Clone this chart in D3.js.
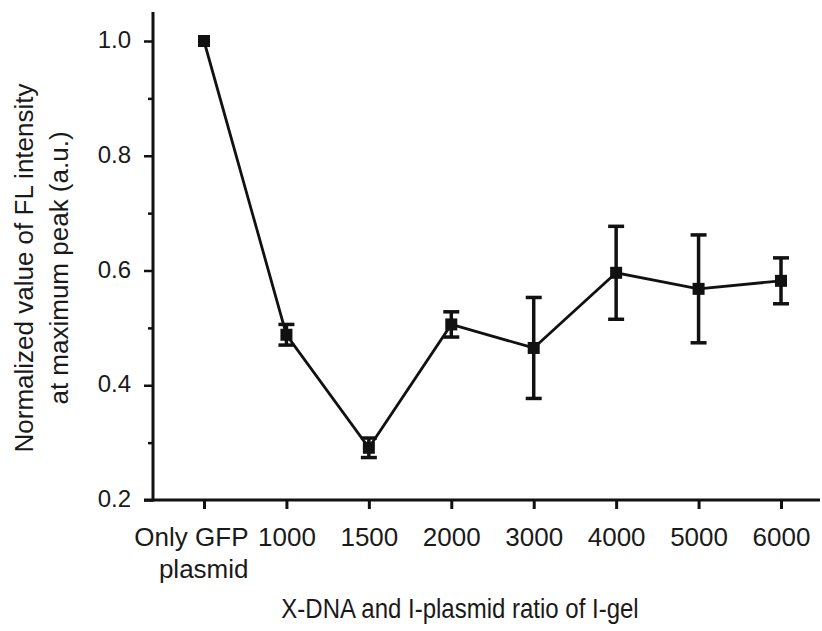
<!DOCTYPE html>
<html>
<head>
<meta charset="utf-8">
<script src="https://cdn.jsdelivr.net/npm/d3@7"></script>
<style>
  html, body { margin: 0; padding: 0; background: #fff; }
  svg { display: block; }
  text { font-family: "Liberation Sans", Arial, Helvetica, sans-serif; fill: #1a1a1a; }
</style>
</head>
<body>
<svg id="chart" width="822" height="631"></svg>
<script>
const categories = ["Only GFP|plasmid", "1000", "1500", "2000", "3000", "4000", "5000", "6000"];
const values = [1.0, 0.488, 0.291, 0.506, 0.465, 0.596, 0.568, 0.582];
const errors = [0.0, 0.018, 0.017, 0.022, 0.088, 0.081, 0.094, 0.040];
const yMajorTicks = [0.2, 0.4, 0.6, 0.8, 1.0];
const yMinorTicks = [0.3, 0.5, 0.7, 0.9];
const xTitle = "X-DNA and I-plasmid ratio of I-gel";
const yTitle = ["Normalized value of FL intensity", "at maximum peak (a.u.)"];

const svg = d3.select("#chart");
const axisX = 153, axisY = 500;

const y = d3.scaleLinear().domain([0.2, 1.0]).range([500, 41]);
const x = d3.scalePoint().domain(categories).range([204, 781]);

const ink = "#111";

// Y axis
const yAxis = d3.axisLeft(y).tickValues(yMajorTicks).tickSize(9).tickPadding(13)
  .tickFormat(d3.format(".1f"));
const gy = svg.append("g").attr("transform", `translate(${axisX},0)`).call(yAxis);
gy.select(".domain").remove();
gy.selectAll(".tick line").attr("stroke", ink).attr("stroke-width", 2.5);
gy.selectAll(".tick text").attr("font-size", 24).attr("dy", "0.28em").style("fill", "#1a1a1a");

const yMinor = d3.axisLeft(y).tickValues(yMinorTicks).tickSize(5).tickFormat("");
const gym = svg.append("g").attr("transform", `translate(${axisX},0)`).call(yMinor);
gym.select(".domain").remove();
gym.selectAll(".tick line").attr("stroke", ink).attr("stroke-width", 2.5);

svg.append("line").attr("x1", axisX).attr("x2", axisX).attr("y1", 12).attr("y2", axisY + 1.5)
  .attr("stroke", ink).attr("stroke-width", 3);

// X axis
const xAxis = d3.axisBottom(x).tickSize(9).tickFormat("");
const gx = svg.append("g").attr("transform", `translate(0,${axisY})`).call(xAxis);
gx.select(".domain").remove();
gx.selectAll(".tick line").attr("stroke", ink).attr("stroke-width", 3);
gx.selectAll(".tick").each(function(d) {
  const lines = d.split("|");
  const multi = lines.length > 1;
  const t = d3.select(this).append("text")
    .attr("text-anchor", multi ? "end" : "middle").attr("font-size", 26).style("fill", "#1a1a1a");
  lines.forEach((s, i) => t.append("tspan").attr("x", multi ? 44 : 0).attr("y", 46 + i * 32).text(s));
});
svg.append("line").attr("x1", 144).attr("x2", 820).attr("y1", axisY).attr("y2", axisY)
  .attr("stroke", ink).attr("stroke-width", 3);

// Error bars
const eb = svg.append("g");
categories.forEach((c, i) => {
  if (errors[i] <= 0) return;
  const cx = x(c);
  const top = y(values[i] + errors[i]), bot = y(values[i] - errors[i]);
  eb.append("line").attr("x1", cx).attr("x2", cx).attr("y1", top).attr("y2", bot)
    .attr("stroke", ink).attr("stroke-width", 3.5);
  [top, bot].forEach(v => eb.append("line").attr("x1", cx - 8).attr("x2", cx + 8)
    .attr("y1", v).attr("y2", v).attr("stroke", ink).attr("stroke-width", 3.5));
});

// Line
const line = d3.line().x((d, i) => x(categories[i])).y(d => y(d));
svg.append("path").datum(values).attr("d", line)
  .attr("fill", "none").attr("stroke", ink).attr("stroke-width", 2.8);

// Markers
svg.append("g").selectAll("rect").data(values).join("rect")
  .attr("x", (d, i) => x(categories[i]) - 6).attr("y", d => y(d) - 6)
  .attr("width", 12).attr("height", 12).attr("fill", ink);

// Titles
svg.append("text").attr("transform", "translate(460,618) scale(1,1.12)").attr("text-anchor", "middle")
  .attr("font-size", 24).text(xTitle);
const yt = svg.append("text").attr("transform", "translate(0,268) rotate(-90)")
  .attr("text-anchor", "middle").attr("font-size", 26);
yTitle.forEach((s, i) => yt.append("tspan").attr("x", 0).attr("y", 33 + i * 35).text(s));
</script>
</body>
</html>
